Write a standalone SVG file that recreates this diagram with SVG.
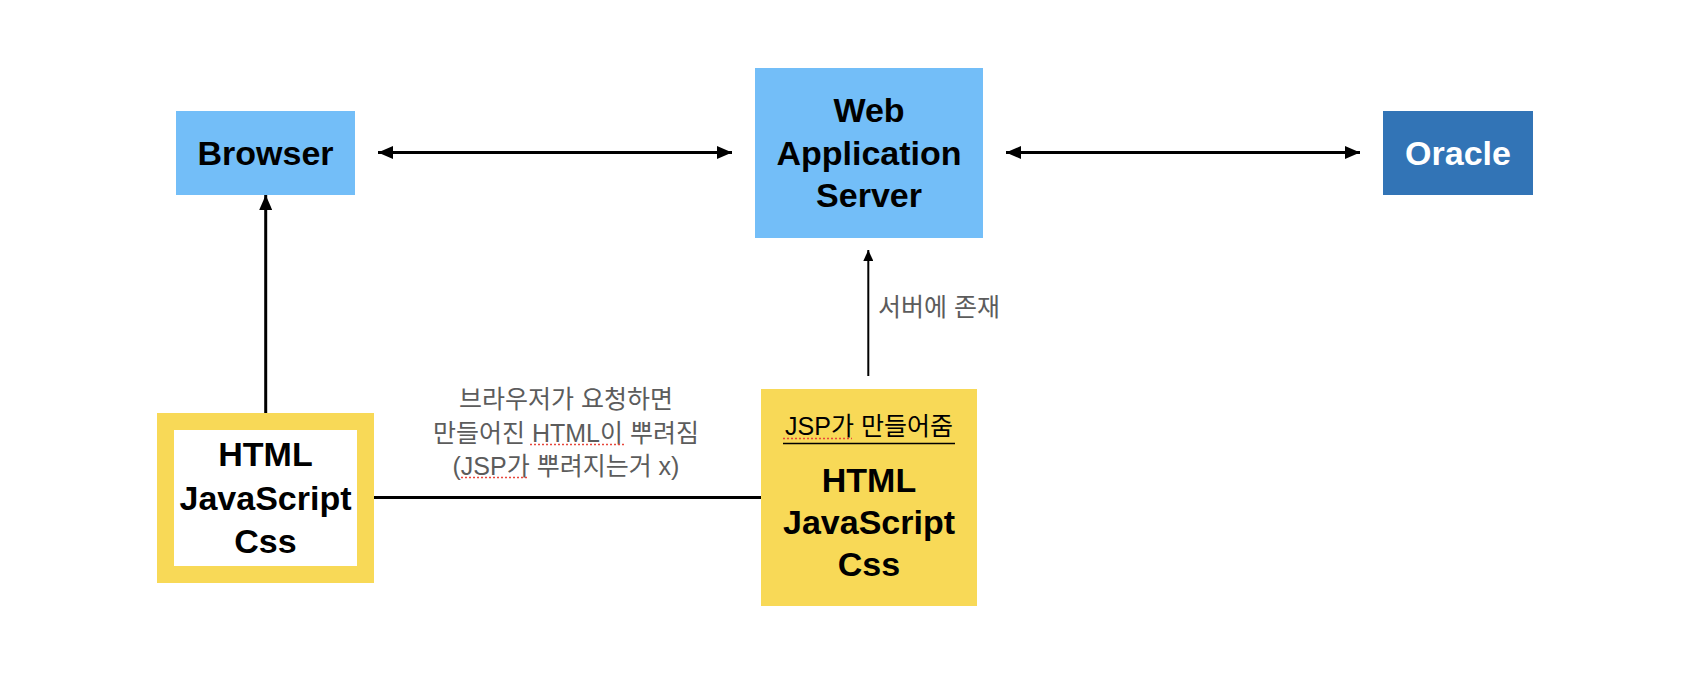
<svg xmlns="http://www.w3.org/2000/svg" width="1704" height="680" viewBox="0 0 1704 680">
  <style>
    .bold { font-family: 'Liberation Sans', Arial, sans-serif; font-weight: bold; font-size: 34px; text-anchor: middle; }
    .lbl { font-family: 'Liberation Sans', 'Noto Sans CJK KR', sans-serif; font-size: 25px; fill: #5c5c5c; }
    .blue { fill: #73bef8; }
    .yellow { fill: #f8d957; }
    .conn { stroke: #000; stroke-width: 3; fill: none; }
    .spell { stroke: #e8473c; stroke-width: 1.6; stroke-dasharray: 2 2; fill: none; }
  </style>
  <defs>
    <marker id="ah" viewBox="0 0 15 13" refX="15" refY="6.5" markerWidth="15" markerHeight="13" markerUnits="userSpaceOnUse" orient="auto-start-reverse">
      <path d="M0,0 L15,6.5 L0,13 Z" fill="#000"/>
    </marker>
    <marker id="ahs" viewBox="0 0 11 10" refX="11" refY="5" markerWidth="11" markerHeight="10" markerUnits="userSpaceOnUse" orient="auto">
      <path d="M0,0 L11,5 L0,10 Z" fill="#000"/>
    </marker>
  </defs>
  <rect width="1704" height="680" fill="#fff"/>

  <g id="connectors">
    <line class="conn" x1="378" y1="152.5" x2="732" y2="152.5" marker-start="url(#ah)" marker-end="url(#ah)"/>
    <line class="conn" x1="1006" y1="152.5" x2="1360" y2="152.5" marker-start="url(#ah)" marker-end="url(#ah)"/>
    <line class="conn" x1="265.7" y1="413" x2="265.7" y2="195" marker-end="url(#ah)"/>
    <line class="conn" x1="374" y1="497.5" x2="761" y2="497.5"/>
    <line class="conn" style="stroke-width:2" x1="868.3" y1="376" x2="868.3" y2="250" marker-end="url(#ahs)"/>
    <g id="label-request">
      <text class="lbl" x="566" y="408" text-anchor="middle">브라우저가 요청하면</text>
      <text class="lbl" x="566" y="441.5" text-anchor="middle">만들어진 HTML이 뿌려짐</text>
      <text class="lbl" x="566" y="474.5" text-anchor="middle">(JSP가 뿌려지는거 x)</text>
      <line class="spell" x1="530" y1="444.5" x2="624" y2="444.5"/>
      <line class="spell" x1="461" y1="477.5" x2="528" y2="477.5"/>
    </g>
    <text id="label-server" class="lbl" x="878" y="316">서버에 존재</text>
  </g>

  <g id="browser">
    <rect class="blue" x="176" y="111" width="179" height="84"/>
    <text class="bold" x="265.5" y="165">Browser</text>
  </g>

  <g id="was">
    <rect class="blue" x="755" y="68" width="228" height="170"/>
    <text class="bold" x="869" y="121.7">Web</text>
    <text class="bold" x="869" y="164.5">Application</text>
    <text class="bold" x="869" y="206.7">Server</text>
  </g>

  <g id="oracle">
    <rect x="1383" y="111" width="150" height="84" fill="#3274b6"/>
    <text class="bold" x="1458" y="165" fill="#fff">Oracle</text>
  </g>

  <g id="client-html">
    <rect x="165.5" y="421.5" width="200" height="153" fill="#fff" stroke="#f8d957" stroke-width="17"/>
    <text class="bold" x="265.5" y="466">HTML</text>
    <text class="bold" x="265.5" y="509.5">JavaScript</text>
    <text class="bold" x="265.5" y="553">Css</text>
  </g>

  <g id="server-jsp">
    <rect class="yellow" x="761" y="389" width="216" height="217"/>
    <text x="869" y="435" text-anchor="middle" style="font-family:'Liberation Sans','Noto Sans CJK KR',sans-serif;font-size:25px;fill:#000">JSP가 만들어줌</text>
    <line x1="783" y1="443.5" x2="955" y2="443.5" stroke="#000" stroke-width="1.3"/>
    <line class="spell" x1="783" y1="438.5" x2="852" y2="438.5"/>
    <text class="bold" x="869" y="491.7">HTML</text>
    <text class="bold" x="869" y="533.5">JavaScript</text>
    <text class="bold" x="869" y="575.7">Css</text>
  </g>
</svg>
